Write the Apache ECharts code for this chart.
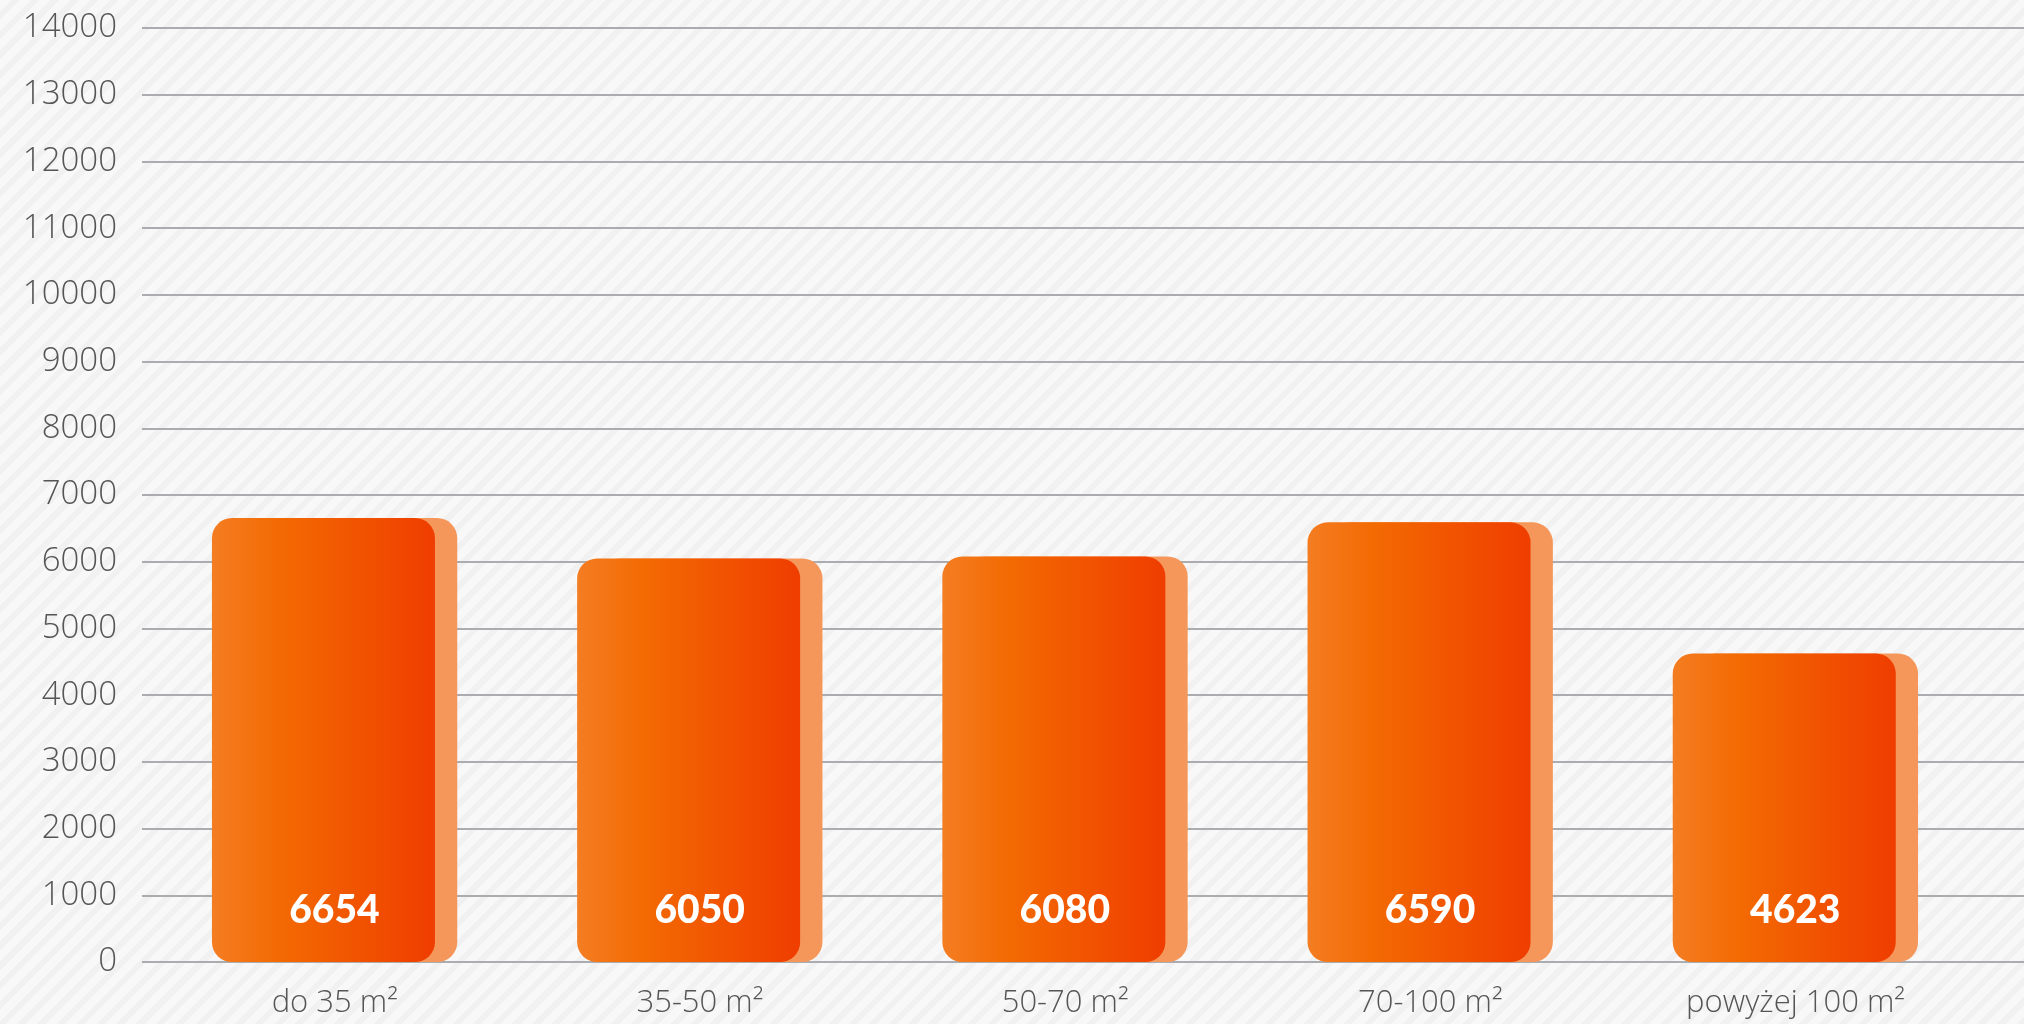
<!DOCTYPE html>
<html>
<head>
<meta charset="utf-8">
<script src="https://cdn.jsdelivr.net/npm/echarts@6/dist/echarts.min.js"></script>
<style>
html,body{margin:0;padding:0;width:2024px;height:1024px;overflow:hidden;}
body{background-color:#f8f8f8;background-image:repeating-linear-gradient(135deg,#f8f8f8 0px,#f8f8f8 8px,#f1f1f1 8px,#f1f1f1 14px);}
#chart{width:2024px;height:1024px;}
</style>
</head>
<body>
<div id="chart"></div>
<script>
const categories = ['do 35 m²', '35-50 m²', '50-70 m²', '70-100 m²', 'powyżej 100 m²'];
const values = [6654, 6050, 6080, 6590, 4623];
const yMin = 0, yMax = 14000, yStep = 1000;

const chart = echarts.init(document.getElementById('chart'), null, {renderer: 'canvas'});
const axisFont = '"Open Sans", sans-serif';
const valueFont = 'Lato, sans-serif';
const mainGradient = new echarts.graphic.LinearGradient(0, 0, 1, 0, [
  {offset: 0, color: '#f47d22'},
  {offset: 0.3, color: '#f36a02'},
  {offset: 1, color: '#ef3d00'}
]);
chart.setOption({
  backgroundColor: 'transparent',
  animation: false,
  grid: [
    {left: 142, right: 0, top: 28, bottom: 62},
    {left: 152, right: 46, top: 28, bottom: 62}
  ],
  xAxis: [
    {gridIndex: 0, type: 'category', data: categories, show: false},
    {gridIndex: 1, type: 'category', data: categories,
     axisLine: {show: false}, axisTick: {show: false},
     axisLabel: {margin: 26, fontSize: 31, color: '#555', fontFamily: axisFont, fontWeight: 300}}
  ],
  yAxis: [
    {gridIndex: 0, type: 'value', min: yMin, max: yMax, interval: yStep,
     axisLine: {show: false}, axisTick: {show: false},
     axisLabel: {margin: 25, fontSize: 33, color: '#555', fontFamily: axisFont, fontWeight: 300,
                 formatter: function (v) { return String(v); }},
     splitLine: {lineStyle: {color: '#abacb0', width: 2}}},
    {gridIndex: 1, type: 'value', min: yMin, max: yMax, interval: yStep, show: false,
     splitLine: {show: false}}
  ],
  series: [
    {
      type: 'bar', xAxisIndex: 1, yAxisIndex: 1, data: values,
      barWidth: 223, barGap: '-90%', z: 3,
      itemStyle: {color: mainGradient, borderRadius: 20},
      label: {show: true, position: 'insideBottom', distance: 32, offset: [11, 0],
              color: '#fff', fontSize: 39, fontWeight: 900, fontFamily: valueFont}
    },
    {
      type: 'bar', xAxisIndex: 1, yAxisIndex: 1, data: values,
      barWidth: 223, z: 2,
      itemStyle: {color: '#f5975a', borderRadius: 20}
    }
  ]
});
</script>
</body>
</html>
